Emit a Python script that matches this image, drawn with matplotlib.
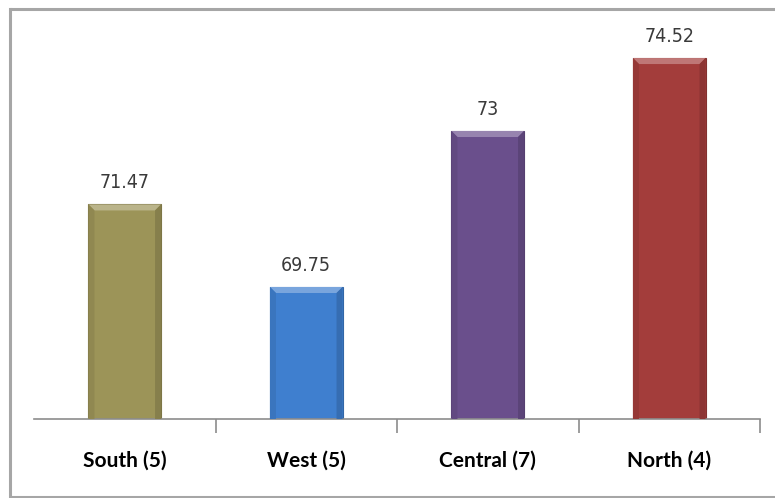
import matplotlib.pyplot as plt
import matplotlib.colors as mcolors
from matplotlib.patches import Polygon
from matplotlib.lines import Line2D
import numpy as np

# regional averages, number of units in brackets
regions = ["South (5)", "West (5)", "Central (7)", "North (4)"]
scores = [71.47, 69.75, 73, 74.52]
colors = ["#9c9458", "#3f7fcf", "#6a4f8c", "#a33d3b"]

W, H = 775, 498
fig = plt.figure(figsize=(W / 100, H / 100), dpi=100)
fig.patch.set_facecolor("white")

# chart frame, open on the right where it runs off the edge
fl, ft, fb = 10 / W, 1 - 9 / H, 1 - 497 / H
fig.add_artist(Line2D([1.0, fl], [ft, ft], transform=fig.transFigure,
                      color="#a6a6a6", linewidth=2.2, solid_capstyle="butt"))
fig.add_artist(Line2D([fl, fl], [ft, fb], transform=fig.transFigure,
                      color="#a6a6a6", linewidth=2.2, solid_capstyle="projecting"))
fig.add_artist(Line2D([fl, 1.0], [fb, fb], transform=fig.transFigure,
                      color="#a6a6a6", linewidth=2.2, solid_capstyle="butt"))

ax = fig.add_axes([34 / W, 1 - 419 / H, (760 - 34) / W, (419 - 35) / H])
x = np.arange(len(regions))
ymin, ymax = 67, 75
bars = ax.bar(x, scores, width=0.4, color=colors, bottom=0, zorder=2)
ax.set_xlim(-0.5, len(regions) - 0.5)
ax.set_ylim(ymin, ymax)

# pixel size of one data unit, used for the bevel edges
px_x = (760 - 34) / len(regions)
px_y = (419 - 35) / (ymax - ymin)
bev = 6

for b, c in zip(bars, colors):
    x0, w, top = b.get_x(), b.get_width(), b.get_height()
    x1 = x0 + w
    dx, dy = bev / px_x, bev / px_y
    base = np.array(mcolors.to_rgb(c))
    light = np.clip(base + (1 - base) * 0.3, 0, 1)
    dark = base * 0.8
    b.set_edgecolor(dark)
    b.set_linewidth(0.8)
    ax.add_patch(Polygon([(x0, top), (x1, top), (x1 - dx, top - dy), (x0 + dx, top - dy)],
                         closed=True, facecolor=light, edgecolor="none", zorder=3))
    ax.add_patch(Polygon([(x0, top), (x0 + dx, top - dy), (x0 + dx, ymin), (x0, ymin)],
                         closed=True, facecolor=base * 0.92, edgecolor="none", zorder=3))
    ax.add_patch(Polygon([(x1, top), (x1 - dx, top - dy), (x1 - dx, ymin), (x1, ymin)],
                         closed=True, facecolor=base * 0.86, edgecolor="none", zorder=3))
    ax.text(b.get_x() + w / 2, top + 22 / px_y, f"{top:g}", ha="center", va="center",
            fontsize=14, family="DejaVu Sans", stretch="condensed",
            fontweight="light", color="#3a3a3a")

for s in ["top", "right", "left"]:
    ax.spines[s].set_visible(False)
ax.spines["bottom"].set_color("#8c8c8c")
ax.spines["bottom"].set_linewidth(1.2)
ax.set_yticks([])

ax.set_xticks(x)
ax.set_xticklabels(regions, fontsize=15, fontweight="bold", family="Lato")
ax.tick_params(axis="x", which="major", length=0, pad=23)
# tick marks between categories and at the right end
ax.set_xticks(np.arange(1, len(regions) + 1) - 0.5, minor=True)
ax.tick_params(axis="x", which="minor", length=10, width=1.2, color="#8c8c8c")

fig.savefig("out.png", dpi=100)
